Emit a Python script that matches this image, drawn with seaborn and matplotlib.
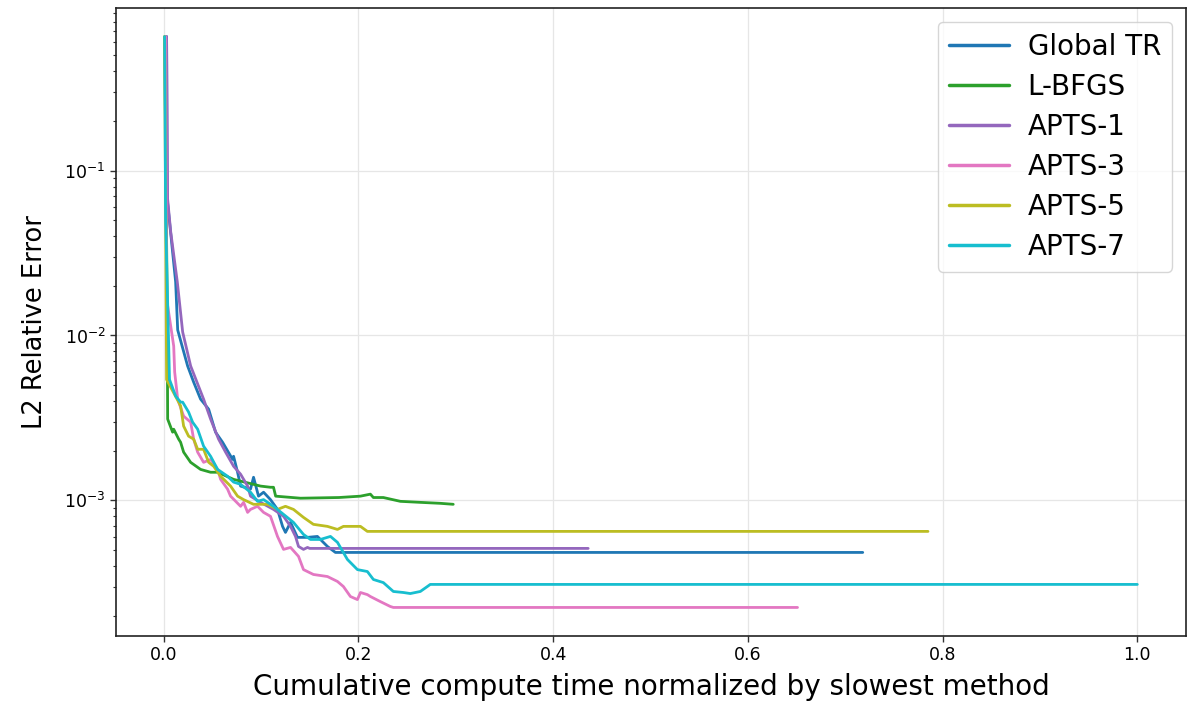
import matplotlib
matplotlib.use("Agg")
import matplotlib.pyplot as plt
import seaborn as sns
import pandas as pd

# Convergence histories: normalized cumulative time vs. L2 relative error
methods = ["Global TR", "L-BFGS", "APTS-1", "APTS-3", "APTS-5", "APTS-7"]
colors = ["#1f77b4", "#2ca02c", "#9467bd", "#e377c2", "#bcbd22", "#17becf"]

global_tr_t = [0.003, 0.0036, 0.0123, 0.0144, 0.019, 0.0246, 0.0308, 0.0379, 0.0462,
               0.0533, 0.0605, 0.0708, 0.0718, 0.0759, 0.0790, 0.0892, 0.0923, 0.0974,
               0.1026, 0.1097, 0.1169, 0.1221, 0.1251, 0.1303, 0.1374, 0.1477, 0.1579,
               0.1682, 0.1764, 0.718]
global_tr_err = [0.65, 0.0676, 0.0211, 0.0108, 0.0086, 0.00653, 0.00521, 0.00411, 0.00357,
                 0.00259, 0.00225, 0.00177, 0.00185, 0.00148, 0.00122, 0.00117, 0.00138, 0.00106,
                 0.00112, 0.00101, 0.000881, 0.000695, 0.000639, 0.000735, 0.000596, 0.000596, 0.000604,
                 0.000525, 0.000483, 0.000483]

lbfgs_t = [0.001, 0.0035, 0.0041, 0.0092, 0.0103, 0.0154, 0.0174, 0.0205, 0.0277, 0.0379,
           0.0482, 0.0554, 0.0718, 0.0995, 0.1097, 0.1128, 0.1150, 0.1405, 0.18, 0.2021,
           0.2123, 0.2154, 0.2256, 0.2431, 0.2636, 0.2841, 0.2974]
lbfgs_err = [0.65, 0.0184, 0.00311, 0.00259, 0.0027, 0.00235, 0.00225, 0.00196, 0.00170, 0.00154,
             0.00148, 0.00148, 0.00134, 0.00122, 0.00120, 0.00120, 0.00106, 0.00103, 0.00104, 0.00106,
             0.00109, 0.00104, 0.00104, 0.000986, 0.000972, 0.000959, 0.000946]

apts1_t = [0.003, 0.004, 0.0072, 0.014, 0.0195, 0.0277, 0.0410, 0.0482, 0.0564, 0.0636,
           0.0718, 0.0790, 0.0862, 0.0892, 0.0995, 0.1128, 0.1231, 0.1303, 0.1354, 0.1385,
           0.1436, 0.1477, 0.1500, 0.436]
apts1_err = [0.65, 0.0676, 0.0426, 0.0211, 0.0105, 0.00653, 0.00411, 0.00311, 0.00235, 0.00196,
             0.00161, 0.00144, 0.00122, 0.00106, 0.000972, 0.000881, 0.000800, 0.000695, 0.000604, 0.000525,
             0.000504, 0.000518, 0.000511, 0.000511]

apts3_t = [0.002, 0.003, 0.0103, 0.0113, 0.0144, 0.0205, 0.0277, 0.0308, 0.0349, 0.0410,
           0.0482, 0.0554, 0.0585, 0.0656, 0.0687, 0.0790, 0.0821, 0.0862, 0.0892, 0.0964,
           0.1026, 0.1097, 0.1169, 0.1231, 0.1303, 0.1385, 0.1436, 0.1538, 0.1682, 0.1785,
           0.1846, 0.1918, 0.1990, 0.2021, 0.2092, 0.2123, 0.2226, 0.2328, 0.2359, 0.651]
apts3_err = [0.65, 0.0167, 0.00863, 0.0060, 0.00411, 0.00324, 0.00298, 0.00235, 0.00196, 0.00170,
             0.00177, 0.00154, 0.00134, 0.00117, 0.00106, 0.000920, 0.000972, 0.000845, 0.000881, 0.000920,
             0.000845, 0.000800, 0.000604, 0.000504, 0.000518, 0.000457, 0.000380, 0.000355, 0.000345, 0.000322,
             0.000300, 0.000261, 0.000250, 0.000276, 0.000268, 0.000261, 0.000243, 0.000227, 0.000224, 0.000224]

apts5_t = [0.001, 0.003, 0.0154, 0.0174, 0.0205, 0.0256, 0.0308, 0.0349, 0.0410, 0.0462,
           0.0513, 0.0585, 0.0687, 0.0759, 0.0821, 0.0923, 0.1067, 0.1169, 0.1251, 0.1333,
           0.1436, 0.1538, 0.1682, 0.1785, 0.1846, 0.2021, 0.2092, 0.785]
apts5_err = [0.65, 0.0054, 0.00394, 0.00373, 0.00282, 0.00245, 0.00235, 0.00204, 0.00204, 0.00170,
             0.00161, 0.00140, 0.00122, 0.00106, 0.00101, 0.000946, 0.000946, 0.000881, 0.000920, 0.000881,
             0.000788, 0.000715, 0.000695, 0.000666, 0.000695, 0.000695, 0.000648, 0.000648]

apts7_t = [0.001, 0.002, 0.006, 0.0123, 0.0174, 0.0195, 0.0256, 0.0297, 0.0349, 0.0410,
           0.0482, 0.0554, 0.0656, 0.0718, 0.0790, 0.0892, 0.0964, 0.1026, 0.1128, 0.1231,
           0.1333, 0.1436, 0.1508, 0.1610, 0.1713, 0.1785, 0.1887, 0.1990, 0.2092, 0.2154,
           0.2256, 0.2359, 0.2462, 0.2533, 0.2636, 0.2708, 0.2738, 1.0]
apts7_err = [0.65, 0.05, 0.0054, 0.00429, 0.00394, 0.00394, 0.00343, 0.00298, 0.00270, 0.00213,
             0.00185, 0.00154, 0.00140, 0.00129, 0.00125, 0.00112, 0.000986, 0.00101, 0.000920, 0.000822,
             0.000735, 0.000621, 0.000579, 0.000579, 0.000604, 0.000556, 0.000438, 0.000380, 0.000370, 0.000331,
             0.000317, 0.000280, 0.000276, 0.000272, 0.000280, 0.000300, 0.000309, 0.000309]

series = {
    "Global TR": (global_tr_t, global_tr_err),
    "L-BFGS": (lbfgs_t, lbfgs_err),
    "APTS-1": (apts1_t, apts1_err),
    "APTS-3": (apts3_t, apts3_err),
    "APTS-5": (apts5_t, apts5_err),
    "APTS-7": (apts7_t, apts7_err),
}

frames = []
for name in methods:
    t, e = series[name]
    frames.append(pd.DataFrame({"time": t, "error": e, "method": name}))
df = pd.concat(frames, ignore_index=True)

sns.set_theme(style="ticks")
plt.rcParams["font.family"] = ["DejaVu Sans"]
plt.rcParams["mathtext.fontset"] = "dejavusans"
for key in ("text.color", "axes.labelcolor", "xtick.color", "ytick.color"):
    plt.rcParams[key] = "black"

fig = plt.figure(figsize=(11.96, 7.04), dpi=100)
ax = fig.add_axes([0.097, 0.0966, 0.8946, 0.892])

# one line per method, drawn in legend order so APTS-7 sits on top
for name, c in zip(methods, colors):
    sub = df[df["method"] == name]
    sns.lineplot(data=sub, x="time", y="error", color=c, label=name,
                 sort=False, estimator=None, linewidth=2.0, ax=ax)

ax.set_yscale("log")
ax.grid(True, which="major", color="#e6e6e6", linewidth=0.9)
ax.set_axisbelow(True)
ax.set_xlabel("Cumulative compute time normalized by slowest method", fontsize=20, labelpad=6)
ax.set_ylabel("L2 Relative Error", fontsize=18.5, labelpad=12)
ax.tick_params(axis="both", which="major", labelsize=12.5, length=4, width=1, color="#333333")
ax.tick_params(axis="y", which="minor", length=2.5, width=0.8, color="#333333")
for sp in ax.spines.values():
    sp.set_visible(True)
    sp.set_color("#222222")
    sp.set_linewidth(1.2)

leg = ax.legend(loc="upper right", fontsize=20, frameon=True, fancybox=True,
                handlelength=2.15, handletextpad=0.68, labelspacing=0.43)
leg.get_frame().set_edgecolor("#cccccc")
for line in leg.get_lines():
    line.set_linewidth(2.5)

fig.savefig("out.png", dpi=100)
